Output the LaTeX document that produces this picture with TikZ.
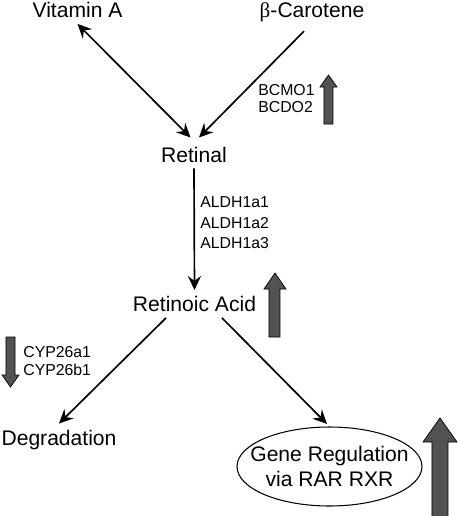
\documentclass[tikz,border=0pt]{standalone}
\usepackage{fontspec}
\setmainfont{Liberation Sans}
\newfontfamily\grk{Liberation Serif}
\usetikzlibrary{arrows.meta,shapes.geometric}
\tikzset{
    big/.style={font=\fontsize{12}{14.7}\selectfont},
    enz/.style={font=\fontsize{9}{10}\selectfont, align=left, inner sep=0pt, anchor=north west},
    conv/.style={line width=0.95pt, -{Stealth[length=8pt,width=7.5pt,inset=2.8pt]}},
    updown/.style={fill=gray!30!black!80, draw=black, line width=0.4pt}
}
\begin{document}
\begin{tikzpicture}
    \useasboundingbox (0,0) rectangle (9.16,-10.32);

    % compounds
    \node[big, anchor=base] (vita) at (1.55,-0.35) {Vitamin A};
    \node[big, anchor=base] (carot) at (6.24,-0.35) {{\grk β}-Carotene};
    \node[big, anchor=base] (retinal) at (3.88,-3.24) {Retinal};
    \node[big, anchor=base] (ra) at (3.89,-6.23) {Retinoic Acid};
    \node[big, anchor=base] (deg) at (1.18,-8.9) {Degradation};
    \node[draw, ellipse, line width=0.6pt, inner sep=0pt, minimum width=3.7cm, minimum height=1.58cm] (gene) at (6.59,-9.33) {};
    \node[big, align=center, inner sep=0pt] (genetxt) at (gene.center) {Gene Regulation\\via RAR RXR};

    % enzymes
    \node[enz, font=\fontsize{9}{9.6}\selectfont] (bcmo) at (5.16,-1.69) {BCMO1\\BCDO2};
    \node[enz, font=\fontsize{9}{11.6}\selectfont] (aldh) at (4.0,-3.93) {ALDH1a1\\ALDH1a2\\ALDH1a3};
    \node[enz] (cyp) at (0.46,-6.93) {CYP26a1\\CYP26b1};

    % conversions
    \draw[conv, {Stealth[length=8pt,width=7.5pt,inset=2.8pt]}-{Stealth[length=8pt,width=7.5pt,inset=2.8pt]}] (vita.south) -- ([xshift=-0.07cm,yshift=0.06cm]retinal.north);
    \draw[conv] ([xshift=-0.16cm,yshift=-0.06cm]carot.south) -- ([xshift=0.1cm,yshift=0.06cm]retinal.north);
    \draw[conv] (retinal.south) -- (ra.north);
    \draw[conv] ([xshift=-0.57cm]ra.south) -- (deg.north);
    \draw[conv, shorten >=2pt] ([xshift=0.55cm]ra.south) -- (gene.north);

    % up and down arrows
    \filldraw[updown] (6.48,-2.48) -- (6.48,-1.74) -- (6.40,-1.74) -- (6.57,-1.5) -- (6.74,-1.74) -- (6.66,-1.74) -- (6.66,-2.48) -- cycle;
    \filldraw[updown] (5.38,-6.74) -- (5.38,-5.78) -- (5.28,-5.78) -- (5.5,-5.46) -- (5.72,-5.78) -- (5.6,-5.78) -- (5.6,-6.74) -- cycle;
    \filldraw[updown] (0.12,-6.74) -- (0.12,-7.5) -- (0.04,-7.5) -- (0.21,-7.74) -- (0.38,-7.5) -- (0.3,-7.5) -- (0.3,-6.74) -- cycle;
    \filldraw[updown] (8.64,-10.4) -- (8.64,-8.84) -- (8.46,-8.84) -- (8.8,-8.36) -- (9.14,-8.84) -- (8.96,-8.84) -- (8.96,-10.4) -- cycle;

\end{tikzpicture}
\end{document}
